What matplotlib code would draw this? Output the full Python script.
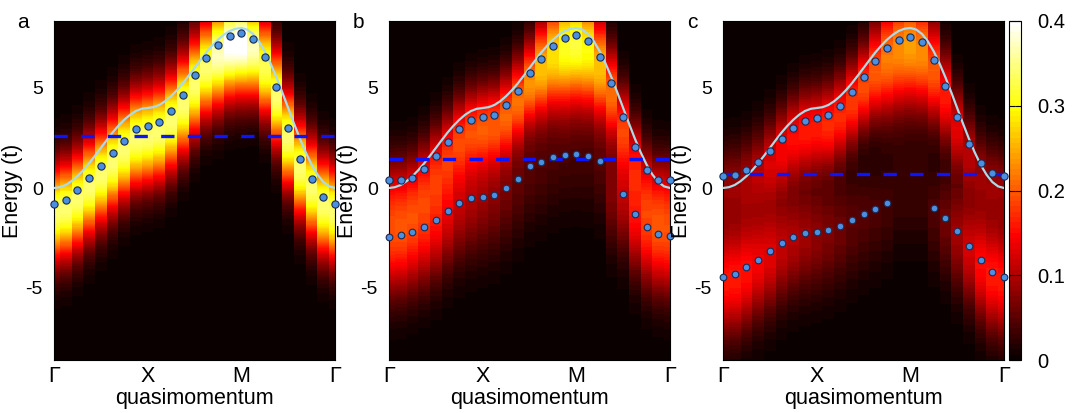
# spectral function panels a, b, c with band dots, bare band and chemical potential
import numpy as np
import matplotlib.pyplot as plt

plt.rcParams['font.family'] = ['Liberation Sans', 'DejaVu Sans']

# quasimomentum path, 25 points Gamma-X-M-Gamma
k_pts = np.arange(25)
k_ticks = [0, 8, 16, 24]
k_labels = ['Γ', 'X', 'M', 'Γ']

# bare band (light blue line), read at half steps of the k path
bare_k = np.arange(49) / 2.0
bare_E = [0.0, 0.04, 0.15, 0.34, 0.59, 0.89, 1.23, 1.61, 2.0, 2.39, 2.77, 3.11, 3.41,
          3.66, 3.85, 3.96, 4.0, 4.04, 4.15, 4.34, 4.59, 4.89, 5.23, 5.61, 6.0, 6.39,
          6.77, 7.11, 7.41, 7.66, 7.85, 7.96, 8.0, 7.92, 7.7, 7.33, 6.83, 6.22, 5.53,
          4.78, 4.0, 3.22, 2.47, 1.78, 1.17, 0.67, 0.3, 0.08, 0.0]

# band positions (dots)
a_up = [-0.78, -0.6, -0.12, 0.5, 1.12, 1.75, 2.37, 2.93, 3.08, 3.28, 3.83, 4.65, 5.63,
        6.5, 7.13, 7.6, 7.73, 7.47, 6.55, 5.05, 3.0, 1.47, 0.45, -0.43, -0.78]
b_up = [0.4, 0.38, 0.5, 0.97, 1.62, 2.3, 2.95, 3.4, 3.55, 3.67, 4.13, 4.87, 5.75,
        6.47, 7.12, 7.52, 7.67, 7.37, 6.55, 5.25, 3.53, 2.05, 0.92, 0.4, 0.4]
b_lo = [-2.45, -2.37, -2.18, -1.95, -1.58, -1.13, -0.77, -0.52, -0.43, -0.35, 0.0, 0.45,
        1.1, 1.3, 1.55, 1.63, 1.68, 1.62, 1.37, np.nan, -0.28, -1.28, -1.95, -2.3, -2.42]
c_up = [0.58, 0.67, 0.92, 1.32, 1.83, 2.43, 3.0, 3.35, 3.48, 3.63, 4.08, 4.78, 5.55,
        6.33, 6.98, 7.4, 7.55, 7.28, 6.4, 5.1, 3.53, 2.22, 1.27, 0.77, 0.58]
c_lo = [-4.45, -4.32, -3.97, -3.58, -3.17, -2.77, -2.43, -2.25, -2.2, -2.1, -1.9, -1.62,
        -1.3, -1.05, -0.77, np.nan, np.nan, np.nan, -1.02, -1.5, -2.14, -2.9, -3.62,
        -4.19, -4.45]

# chemical potential (dashed)
mu = [2.58, 1.47, 0.72]

# spectral weight per column: peak height, width (peak sits a little below the dot)
a_amp = [0.34] * 13 + [0.34, 0.37, 0.4, 0.41, 0.37, 0.33] + [0.34] * 6
a_sig = [1.7] * 13 + [1.7, 1.8, 1.8, 1.8, 1.7, 1.7] + [1.7] * 6
b_up_amp = [0.08, 0.08, 0.09, 0.11, 0.13, 0.15, 0.17, 0.18, 0.19, 0.19, 0.2, 0.21, 0.23,
            0.26, 0.28, 0.31, 0.32, 0.3, 0.26, 0.21, 0.17, 0.12, 0.09, 0.08, 0.08]
b_up_sig = [1.5] * 13 + [1.7, 1.9, 2.1, 2.1, 2.0, 1.8, 1.6] + [1.5] * 5
b_lo_amp = [0.17, 0.17, 0.16, 0.15, 0.14, 0.12, 0.1, 0.09, 0.08, 0.07, 0.06, 0.05, 0.045,
            0.04, 0.035, 0.03, 0.03, 0.03, 0.04, 0.07, 0.1, 0.14, 0.16, 0.17, 0.17]
b_lo_sig = [1.9] * 25
c_up_amp = [0.08, 0.08, 0.09, 0.1, 0.12, 0.14, 0.15, 0.16, 0.16, 0.17, 0.17, 0.18, 0.19,
            0.2, 0.22, 0.23, 0.24, 0.23, 0.2, 0.16, 0.13, 0.1, 0.08, 0.08, 0.08]
c_up_sig = [1.5] * 13 + [1.7, 2.0, 2.1, 2.1, 2.0, 1.8, 1.6] + [1.5] * 5
c_lo_amp = [0.16, 0.16, 0.155, 0.14, 0.13, 0.11, 0.1, 0.09, 0.08, 0.07, 0.06, 0.05, 0.045,
            0.04, 0.035, 0.03, 0.03, 0.03, 0.04, 0.06, 0.09, 0.12, 0.15, 0.16, 0.16]
c_lo_sig = [1.9] * 25
shift_up = -0.5
shift_lo = -0.3

E = np.linspace(-8.6, 8.35, 340)


def weight(dots, amp, sig, shift):
    c = np.nan_to_num(np.array(dots, float)) + shift
    a = np.array(amp, float)
    s = np.array(sig, float)
    return a[:, None] * np.exp(-(E[None, :] - c[:, None])**2 / (2 * s[:, None]**2))


heat = [
    weight(a_up, a_amp, a_sig, shift_up),
    weight(b_up, b_up_amp, b_up_sig, shift_up) + weight(b_lo, b_lo_amp, b_lo_sig, shift_lo),
    weight(c_up, c_up_amp, c_up_sig, shift_up) + weight(c_lo, c_lo_amp, c_lo_sig, shift_lo),
]
dots = [[a_up], [b_up, b_lo], [c_up, c_lo]]

fig = plt.figure(figsize=(10.8, 4.13), dpi=100)
lefts = [54, 389, 723]
letters = ['a', 'b', 'c']
cmap = plt.get_cmap('hot', 64)

for i in range(3):
    ax = fig.add_axes([lefts[i] / 1080, 1 - 360 / 413, 281 / 1080, 339 / 413])
    im = ax.imshow(heat[i].T, origin='lower', aspect='auto', cmap=cmap, vmin=0, vmax=0.4,
                   extent=[-0.5, 24.5, E[0], E[-1]], interpolation='nearest')
    ax.plot(bare_k, bare_E, color='#a9dbe8', lw=1.6, zorder=3)
    ax.axhline(mu[i], color='#0a14ff', lw=2.4, dashes=(4.0, 4.0), zorder=4)
    for j, d in enumerate(dots[i]):
        ax.plot(k_pts, d, 'o', ms=5.2 if j == 0 else 4.8, mfc='#4a8fe0', mec='#1b2b55',
                mew=0.8, ls='none', zorder=5, clip_on=False)
    ax.set_xlim(0, 24)
    ax.set_ylim(-8.6, 8.35)
    ax.set_xticks(k_ticks)
    ax.set_xticklabels(k_labels, fontsize=15.5)
    ax.set_yticks([-5, 0, 5])
    ax.set_yticklabels(['-5', '0', '5'], fontsize=14)
    ax.tick_params(axis='x', length=0, pad=4)
    ax.tick_params(axis='y', length=0, pad=8)
    ax.set_xlabel('quasimomentum', fontsize=15.5, labelpad=1)
    ax.set_ylabel('Energy (t)', fontsize=15.5, labelpad=2)
    for sp in ax.spines.values():
        sp.set_linewidth(0.8)
    fig.text((lefts[i] - 31) / 1080, 1 - 28 / 413, letters[i], fontsize=15,
             ha='center', va='baseline')

cax = fig.add_axes([1009 / 1080, 1 - 360 / 413, 12 / 1080, 339 / 413])
cb = fig.colorbar(im, cax=cax, ticks=[0, 0.1, 0.2, 0.3, 0.4])
cb.ax.set_yticklabels(['0', '0.1', '0.2', '0.3', '0.4'], fontsize=14.5)
cb.ax.tick_params(direction='in', length=4, width=0.8, left=True, right=True, pad=12)
cb.outline.set_linewidth(0.8)

fig.savefig('out.png', dpi=100)
